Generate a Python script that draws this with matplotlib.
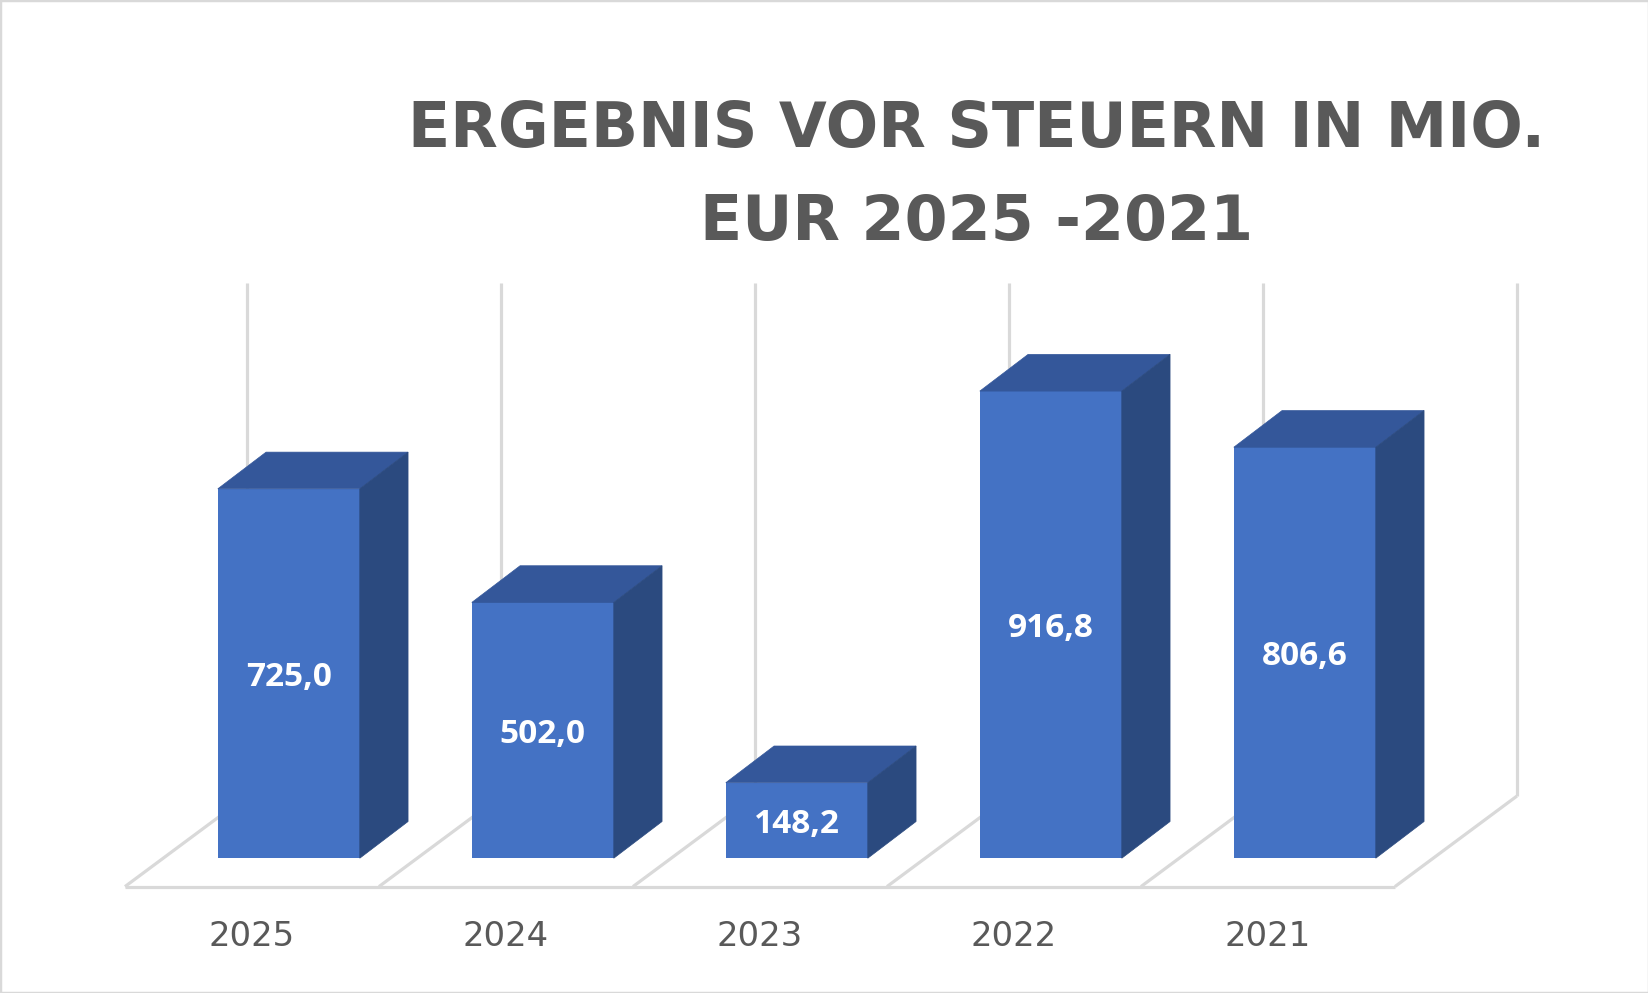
import matplotlib
matplotlib.use("Agg")
import matplotlib.pyplot as plt
from matplotlib.patches import Polygon, Rectangle

# ---- data ----
categories = ["2025", "2024", "2023", "2022", "2021"]
values = [725.0, 502.0, 148.2, 916.8, 806.6]
title = "ERGEBNIS VOR STEUERN IN MIO.\nEUR 2025 -2021"

# ---- style ----
FRONT = "#4472C4"
TOP = "#34579A"
SIDE = "#2B4A7F"
GRID = "#D9D9D9"
TEXT = "#595959"

W, H = 1649, 993
fig = plt.figure(figsize=(W / 100, H / 100), dpi=100)
fig.patch.set_facecolor("white")

# axes placed so that value 0 .. 1000 spans the bar area
ax = fig.add_axes([161.8 / W, 134.8 / H, 1270 / W, 509.5 / H])
ax.set_xlim(-0.5, len(categories) - 0.5)
ax.set_ylim(0, 1000)
ax.patch.set_visible(False)
for s in ax.spines.values():
    s.set_visible(False)
ax.yaxis.set_visible(False)

# 3D depth parameters (in data units)
bar_w = 0.559
bdx, bdy = 0.190, 72.0          # bar depth
floor_y = -55.7                 # front edge of floor
fdx, fdy = 0.480, 177.6         # floor depth
shift = 0.145                   # floor front offset vs bar fronts
wall_h = 1008.0

# floor and back wall lines
n = len(categories)
seps = [k - 0.5 - shift for k in range(n + 1)]
lk = dict(color=GRID, lw=2.3, zorder=1, clip_on=False, solid_capstyle="butt")
ax.plot([seps[0], seps[-1]], [floor_y, floor_y], **lk)
for sx in seps:
    bx, by = sx + fdx, floor_y + fdy
    ax.plot([sx, bx], [floor_y, by], **lk)
    ax.plot([bx, bx], [by, by + wall_h], **lk)

# bars: front faces
x = list(range(n))
ax.bar(x, values, width=bar_w, color=FRONT, zorder=3, clip_on=False)

# top and side faces
for xi, v in zip(x, values):
    l, r = xi - bar_w / 2, xi + bar_w / 2
    top = Polygon([(l, v), (r, v), (r + bdx, v + bdy), (l + bdx, v + bdy)],
                  closed=True, facecolor=TOP, edgecolor=TOP, lw=0.5,
                  zorder=3, clip_on=False)
    side = Polygon([(r, 0), (r + bdx, bdy), (r + bdx, v + bdy), (r, v)],
                   closed=True, facecolor=SIDE, edgecolor=SIDE, lw=0.5,
                   zorder=3, clip_on=False)
    ax.add_patch(top)
    ax.add_patch(side)
    ax.text(xi, v / 2, f"{v:.1f}".replace(".", ","), ha="center",
            va="center_baseline", color="white", fontsize=24.0,
            fontfamily="Open Sans", fontweight="bold", zorder=5)

# category labels
ax.set_xticks([k - shift for k in x])
ax.set_xticklabels(categories, fontsize=24.4, color=TEXT,
                   fontfamily="DejaVu Sans")
ax.tick_params(axis="x", length=0, pad=44.5)

# title
fig.text(977 / W, 1 - 100.5 / H, title, ha="center", va="top",
         multialignment="center", fontsize=44.6, fontweight="bold",
         fontfamily="DejaVu Sans", color=TEXT, linespacing=1.70)

# chart border
fig.patches.append(Rectangle((0, 0), 1, 1, transform=fig.transFigure,
                             fill=False, edgecolor=GRID, lw=2.5))

fig.savefig("out.png", dpi=100)
